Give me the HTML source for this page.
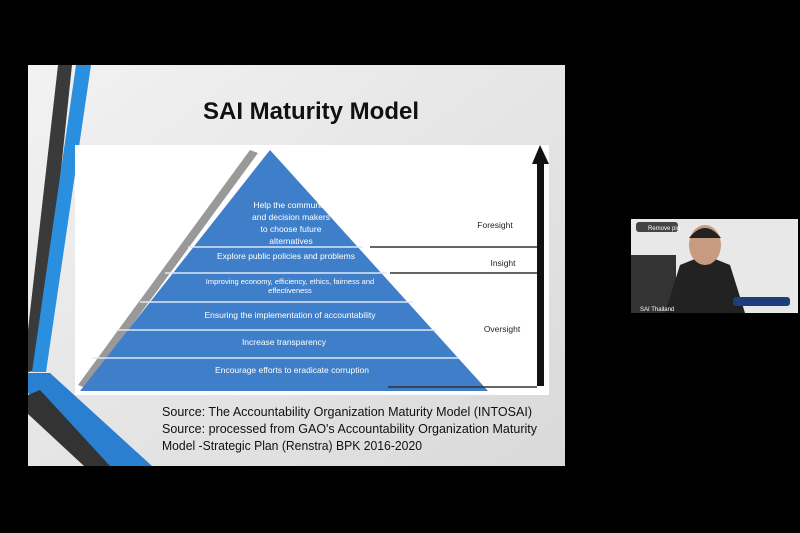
<!DOCTYPE html><html><head><style>body{margin:0;width:800px;height:533px;background:#000;overflow:hidden}</style></head><body>
<svg width="800" height="533" xmlns="http://www.w3.org/2000/svg" style="display:block;font-family:'Liberation Sans',sans-serif">
<defs><linearGradient id="g" x1="0" y1="0" x2="1" y2="1"><stop offset="0" stop-color="#f2f2f2"/><stop offset="1" stop-color="#d9d9d9"/></linearGradient></defs>
<rect x="28" y="65" width="537" height="401" fill="url(#g)"/>
<polygon points="58,65 72,65 40,370 28,372 28,330" fill="#3a3a3a"/>
<polygon points="76,65 91,65 46,372 32,372" fill="#2b8fe0"/>
<polygon points="28,373 50,373 152,466 108,466 28,393" fill="#2a7fd0"/>
<polygon points="28,395 40,390 110,466 84,466 28,414" fill="#333"/>
<text x="311" y="119" font-size="24" font-weight="bold" text-anchor="middle" fill="#111">SAI Maturity Model</text>
<rect x="75" y="145" width="474" height="250" fill="#fff"/>
<polygon points="78,385 250,150 258,153 86,388" fill="#999"/>
<polygon points="270,150 488,391 80,391" fill="#3f7fc9"/>
<g stroke="#dfe9f5" stroke-width="1.5"><line x1="188" y1="247" x2="363" y2="247"/><line x1="165" y1="273" x2="387" y2="273"/><line x1="140" y1="302" x2="413" y2="302"/><line x1="116" y1="330" x2="436" y2="330"/><line x1="92" y1="358" x2="459" y2="358"/></g>
<g stroke="#333" stroke-width="1.5"><line x1="370" y1="247" x2="537" y2="247"/><line x1="390" y1="273" x2="537" y2="273"/><line x1="388" y1="387" x2="537" y2="387"/></g>
<rect x="537" y="162" width="7" height="224" fill="#111"/>
<polygon points="532,164 549,164 540,145" fill="#111"/>
<g fill="#fff" font-size="8.5" text-anchor="middle"><text x="291" y="208">Help the community</text><text x="291" y="220">and decision makers</text><text x="291" y="232">to choose future</text><text x="291" y="244">alternatives</text><text x="286" y="259">Explore public policies and problems</text><text x="290" y="284" font-size="7.5">Improving economy, efficiency, ethics, fairness and</text><text x="290" y="293" font-size="7.5">effectiveness</text><text x="290" y="318">Ensuring the implementation of accountability</text><text x="284" y="345">Increase transparency</text><text x="292" y="373">Encourage efforts to eradicate corruption</text></g>
<g fill="#222" font-size="8.5" text-anchor="middle"><text x="495" y="228">Foresight</text><text x="503" y="266">Insight</text><text x="502" y="332">Oversight</text></g>
<g fill="#111" font-size="12.5"><text x="162" y="416" textLength="370" lengthAdjust="spacingAndGlyphs">Source: The Accountability Organization Maturity Model (INTOSAI)</text><text x="162" y="433" textLength="375" lengthAdjust="spacingAndGlyphs">Source: processed from GAO's Accountability Organization Maturity</text><text x="162" y="450" textLength="260" lengthAdjust="spacingAndGlyphs">Model -Strategic Plan (Renstra) BPK 2016-2020</text></g>
<rect x="631" y="219" width="167" height="94" fill="#e8e8e8"/>
<rect x="631" y="255" width="45" height="58" fill="#333"/>
<polygon points="665,313 680,265 705,255 730,265 745,313" fill="#222"/>
<ellipse cx="705" cy="245" rx="16" ry="20" fill="#c89a80"/>
<path d="M689,238 Q705,218 721,238" fill="#222"/>
<rect x="636" y="222" width="42" height="10" rx="3" fill="#444"/>
<text x="648" y="230" font-size="6" fill="#fff">Remove pin</text>
<rect x="733" y="297" width="57" height="9" rx="3" fill="#1f3d7a"/>
<text x="640" y="311" font-size="6" fill="#fff">SAI Thailand</text>
</svg></body></html>
